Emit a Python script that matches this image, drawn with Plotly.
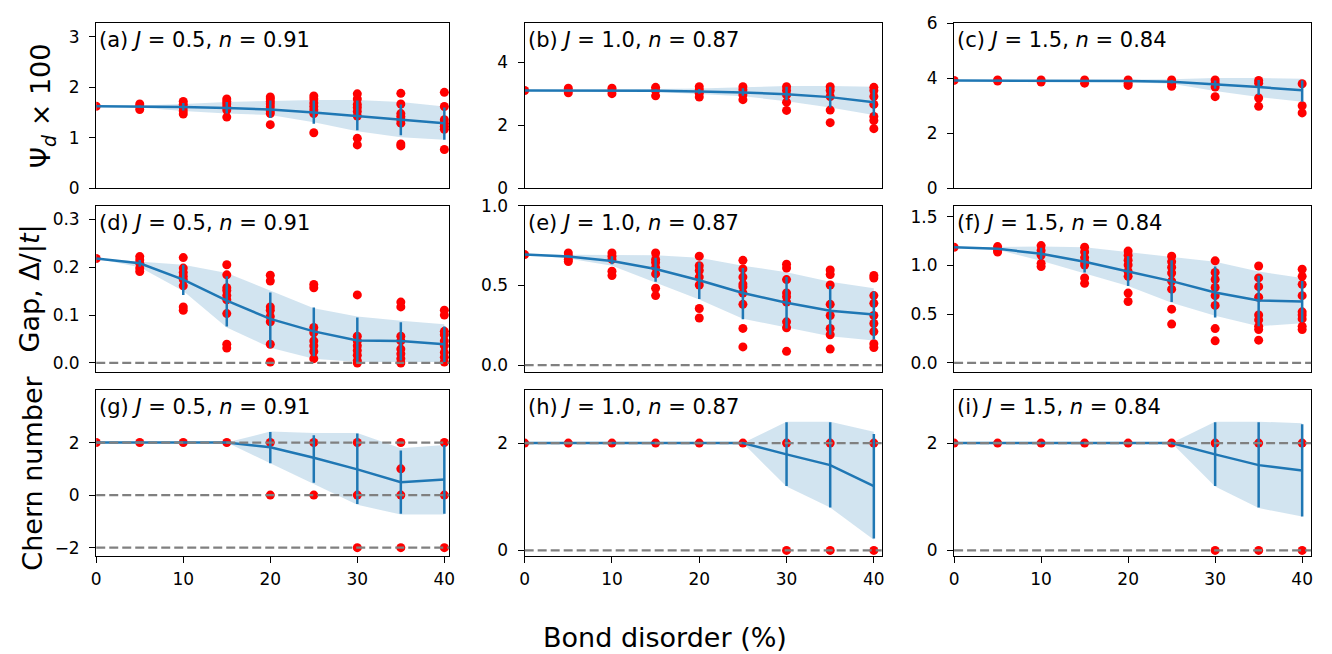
import plotly.graph_objects as go

# ---------------- data ----------------
disorder = [0, 5, 10, 15, 20, 25, 30, 35, 40]
x_ticks = [0, 10, 20, 30, 40]

panel_labels = ["(a)", "(b)", "(c)", "(d)", "(e)", "(f)", "(g)", "(h)", "(i)"]
J_values = ["0.5", "1.0", "1.5"]
n_values = ["0.91", "0.87", "0.84"]

# Row 1: order parameter Psi_d x 100
mean_a = [1.625, 1.62, 1.61, 1.59, 1.56, 1.50, 1.43, 1.36, 1.29]
ebhi_a = [1.625, 1.64, 1.69, 1.71, 1.74, 1.74, 1.74, 1.66, 1.60]
eblo_a = [1.625, 1.60, 1.54, 1.48, 1.39, 1.28, 1.15, 1.05, 0.96]
bdhi_a = [1.625, 1.64, 1.67, 1.71, 1.73, 1.75, 1.75, 1.71, 1.62]
bdlo_a = [1.625, 1.60, 1.53, 1.48, 1.45, 1.31, 1.13, 1.01, 0.96]
pts_a = [[1.625], [1.67, 1.625, 1.56], [1.72, 1.66, 1.60, 1.53, 1.47],
         [1.77, 1.72, 1.67, 1.61, 1.55, 1.41],
         [1.81, 1.77, 1.72, 1.67, 1.61, 1.53, 1.48, 1.26],
         [1.83, 1.77, 1.69, 1.62, 1.55, 1.48, 1.10],
         [1.87, 1.77, 1.66, 1.60, 1.52, 1.43, 0.99, 0.86],
         [1.88, 1.67, 1.48, 1.42, 1.36, 1.29, 0.88, 0.84],
         [1.90, 1.62, 1.36, 1.29, 1.23, 1.17, 0.77]]

mean_b = [3.10, 3.10, 3.10, 3.09, 3.07, 3.04, 2.98, 2.89, 2.73]
ebhi_b = [3.10, 3.11, 3.12, 3.13, 3.15, 3.17, 3.22, 3.22, 3.14]
eblo_b = [3.10, 3.09, 3.08, 3.06, 3.00, 2.93, 2.79, 2.56, 2.30]
bdhi_b = [3.10, 3.11, 3.12, 3.13, 3.16, 3.20, 3.24, 3.24, 3.22]
bdlo_b = [3.10, 3.09, 3.08, 3.05, 2.99, 2.92, 2.76, 2.56, 2.32]
pts_b = [[3.10], [3.17, 3.03], [3.17, 3.10, 3.00], [3.20, 3.10, 2.93],
         [3.22, 3.12, 3.01, 2.89], [3.22, 3.12, 2.96, 2.81],
         [3.22, 3.10, 2.96, 2.73, 2.47], [3.22, 3.10, 2.91, 2.48, 2.08],
         [3.20, 3.10, 2.91, 2.66, 2.28, 2.15, 1.89]]

mean_c = [3.92, 3.92, 3.92, 3.91, 3.90, 3.87, 3.78, 3.68, 3.56]
ebhi_c = [3.92, 3.93, 3.94, 3.94, 3.94, 3.93, 3.92, 3.94, 3.92]
eblo_c = [3.92, 3.91, 3.90, 3.88, 3.86, 3.81, 3.62, 3.39, 3.15]
bdhi_c = [3.92, 3.93, 3.94, 3.95, 3.96, 3.96, 4.01, 4.01, 3.98]
bdlo_c = [3.92, 3.91, 3.90, 3.88, 3.85, 3.80, 3.54, 3.32, 3.15]
pts_c = [[3.92], [3.94, 3.90], [3.94, 3.86], [3.94, 3.82], [3.94, 3.82, 3.74],
         [3.94, 3.80, 3.71], [3.94, 3.82, 3.68, 3.33], [3.92, 3.82, 3.28, 2.98],
         [3.80, 3.00, 2.74]]

# Row 2: gap Delta/|t|
mean_d = [0.218, 0.208, 0.174, 0.130, 0.092, 0.066, 0.047, 0.046, 0.039]
ebhi_d = [0.218, 0.215, 0.205, 0.181, 0.147, 0.116, 0.095, 0.085, 0.076]
eblo_d = [0.218, 0.201, 0.142, 0.076, 0.032, 0.014, 0.000, 0.005, 0.002]
bdhi_d = [0.218, 0.212, 0.205, 0.188, 0.151, 0.114, 0.097, 0.088, 0.081]
bdlo_d = [0.218, 0.200, 0.150, 0.074, 0.032, 0.009, 0.002, 0.002, 0.002]
pts_d = [[0.218], [0.222, 0.215, 0.208, 0.198, 0.191],
         [0.220, 0.198, 0.189, 0.181, 0.174, 0.161, 0.117, 0.110],
         [0.205, 0.184, 0.157, 0.151, 0.141, 0.132, 0.103, 0.039, 0.031],
         [0.183, 0.171, 0.117, 0.110, 0.097, 0.086, 0.039, 0.002],
         [0.164, 0.157, 0.074, 0.063, 0.046, 0.036, 0.024, 0.009],
         [0.142, 0.056, 0.046, 0.036, 0.026, 0.016, 0.005, 0.000],
         [0.127, 0.117, 0.056, 0.046, 0.029, 0.019, 0.009, 0.000],
         [0.110, 0.100, 0.066, 0.059, 0.046, 0.036, 0.022, 0.012, 0.002]]

mean_e = [0.694, 0.682, 0.654, 0.604, 0.533, 0.453, 0.392, 0.342, 0.318]
ebhi_e = [0.694, 0.688, 0.684, 0.674, 0.644, 0.610, 0.553, 0.497, 0.463]
eblo_e = [0.694, 0.676, 0.634, 0.523, 0.416, 0.288, 0.231, 0.191, 0.161]
bdhi_e = [0.694, 0.694, 0.694, 0.690, 0.674, 0.624, 0.584, 0.523, 0.483]
bdlo_e = [0.694, 0.670, 0.624, 0.517, 0.412, 0.292, 0.235, 0.181, 0.155]
pts_e = [[0.694], [0.704, 0.684, 0.664, 0.650],
         [0.704, 0.684, 0.664, 0.590, 0.563],
         [0.704, 0.664, 0.644, 0.614, 0.573, 0.483, 0.437],
         [0.684, 0.624, 0.594, 0.553, 0.503, 0.356, 0.296],
         [0.658, 0.604, 0.553, 0.509, 0.493, 0.453, 0.382, 0.231, 0.115],
         [0.634, 0.610, 0.537, 0.453, 0.429, 0.396, 0.272, 0.235, 0.087],
         [0.598, 0.569, 0.503, 0.382, 0.312, 0.231, 0.191, 0.101],
         [0.563, 0.547, 0.437, 0.388, 0.312, 0.262, 0.211, 0.135, 0.111]]

mean_f = [1.185, 1.169, 1.119, 1.036, 0.937, 0.838, 0.722, 0.639, 0.629]
ebhi_f = [1.185, 1.175, 1.180, 1.146, 1.093, 1.053, 0.987, 0.894, 0.838]
eblo_f = [1.185, 1.163, 1.060, 0.927, 0.788, 0.623, 0.464, 0.374, 0.417]
bdhi_f = [1.185, 1.192, 1.192, 1.185, 1.136, 1.086, 1.036, 0.937, 0.871]
bdlo_f = [1.185, 1.159, 1.046, 0.914, 0.788, 0.616, 0.483, 0.374, 0.407]
pts_f = [[1.185], [1.192, 1.152, 1.136],
         [1.202, 1.152, 1.103, 1.020, 0.987],
         [1.185, 1.136, 1.079, 1.036, 1.003, 0.871, 0.815],
         [1.146, 1.103, 1.053, 1.003, 0.937, 0.887, 0.715, 0.629],
         [1.093, 1.036, 0.980, 0.921, 0.838, 0.755, 0.550, 0.397],
         [1.046, 0.927, 0.854, 0.772, 0.689, 0.589, 0.351, 0.225],
         [0.993, 0.871, 0.781, 0.672, 0.490, 0.440, 0.374, 0.341, 0.232],
         [0.960, 0.887, 0.805, 0.689, 0.523, 0.490, 0.450, 0.374, 0.341]]

# Row 3: Chern number
mean_g = [2, 2, 2, 2, 1.82, 1.42, 0.98, 0.49, 0.59]
ebhi_g = [2, 2, 2, 2, 2.40, 2.28, 2.34, 1.70, 1.91]
eblo_g = [2, 2, 2, 2, 1.21, 0.47, -0.34, -0.71, -0.71]
bdhi_g = [2, 2, 2, 2, 2.42, 2.36, 2.36, 1.78, 1.91]
bdlo_g = [2, 2, 2, 2, 1.21, 0.43, -0.37, -0.74, -0.74]
pts_g = [[2], [2], [2], [2], [2, 0], [2, 0], [2, 0, -2], [2, 1, 0, -2], [2, 0, -2]]

mean_h = [2, 2, 2, 2, 2, 2, 1.79, 1.59, 1.20]
ebhi_h = [2, 2, 2, 2, 2, 2, 2.39, 2.39, 2.17]
eblo_h = [2, 2, 2, 2, 2, 2, 1.20, 0.80, 0.22]
bdhi_h = [2, 2, 2, 2, 2, 2, 2.40, 2.40, 2.21]
bdlo_h = [2, 2, 2, 2, 2, 2, 1.19, 0.80, 0.20]
pts_h = [[2], [2], [2], [2], [2], [2], [2, 0], [2, 0], [2, 0]]

mean_i = [2, 2, 2, 2, 2, 2, 1.79, 1.59, 1.49]
ebhi_i = [2, 2, 2, 2, 2, 2, 2.39, 2.39, 2.35]
eblo_i = [2, 2, 2, 2, 2, 2, 1.20, 0.80, 0.63]
bdhi_i = [2, 2, 2, 2, 2, 2, 2.40, 2.40, 2.37]
bdlo_i = [2, 2, 2, 2, 2, 2, 1.19, 0.79, 0.63]
pts_i = [[2], [2], [2], [2], [2], [2], [2, 0], [2, 0], [2, 0]]

panels = [
    (mean_a, ebhi_a, eblo_a, bdhi_a, bdlo_a, pts_a),
    (mean_b, ebhi_b, eblo_b, bdhi_b, bdlo_b, pts_b),
    (mean_c, ebhi_c, eblo_c, bdhi_c, bdlo_c, pts_c),
    (mean_d, ebhi_d, eblo_d, bdhi_d, bdlo_d, pts_d),
    (mean_e, ebhi_e, eblo_e, bdhi_e, bdlo_e, pts_e),
    (mean_f, ebhi_f, eblo_f, bdhi_f, bdlo_f, pts_f),
    (mean_g, ebhi_g, eblo_g, bdhi_g, bdlo_g, pts_g),
    (mean_h, ebhi_h, eblo_h, bdhi_h, bdlo_h, pts_h),
    (mean_i, ebhi_i, eblo_i, bdhi_i, bdlo_i, pts_i),
]

y_tickvals = [[0, 1, 2, 3], [0, 2, 4], [0, 2, 4, 6],
              [0, 0.1, 0.2, 0.3], [0, 0.5, 1.0], [0, 0.5, 1.0, 1.5],
              [-2, 0, 2], [0, 2], [0, 2]]
y_tickfmt = ["d", "d", "d", ".1f", ".1f", ".1f", "d", "d", "d"]
y_ranges = [[0, 3.28], [0, 5.25], [0, 6.02],
            [-0.018, 0.328], [-0.04, 1.0], [-0.09, 1.61],
            [-2.31, 4.0], [-0.1, 2.99], [-0.1, 2.99]]
x_ranges = [[0, 40.57], [0, 40.9], [0, 41.03]]
ref_lines = [[], [], [], [0], [0], [0], [-2, 0, 2], [0, 2], [0, 2]]
row_titles = ["Ψ<sub><i>d</i></sub> × 100", "Gap, Δ/|<i>t</i>|", "Chern number"]
row_title_xpx = [38, 25, 28]

# ---------------- layout geometry ----------------
W, H = 1332, 654
col_px = [(92, 448), (524, 884), (957, 1317)]
row_px = [(13, 184), (202, 373), (392, 563)]

BLUE = "#1f77b4"
BAND = "rgba(31,119,180,0.2)"
FONT = "DejaVu Sans"

fig = go.Figure()
layout = dict(
    width=W, height=H, margin=dict(l=0, r=0, t=0, b=0),
    paper_bgcolor="white", plot_bgcolor="white", showlegend=False,
    font=dict(family=FONT, color="black", size=17),
)
annotations = []
shapes = []

for k, (mean, ebhi, eblo, bdhi, bdlo, pts) in enumerate(panels):
    r, c = divmod(k, 3)
    n = k + 1
    xa = "x" if n == 1 else f"x{n}"
    ya = "y" if n == 1 else f"y{n}"
    xkey = "xaxis" if n == 1 else f"xaxis{n}"
    ykey = "yaxis" if n == 1 else f"yaxis{n}"

    # band
    fig.add_trace(go.Scatter(x=disorder, y=bdhi, mode="lines", line=dict(width=0, color=BAND),
                             xaxis=xa, yaxis=ya, hoverinfo="skip"))
    fig.add_trace(go.Scatter(x=disorder, y=bdlo, mode="lines", line=dict(width=0, color=BAND),
                             fill="tonexty", fillcolor=BAND, xaxis=xa, yaxis=ya, hoverinfo="skip"))
    # samples
    sx, sy = [], []
    for xv, vals in zip(disorder, pts):
        for v in vals:
            sx.append(xv)
            sy.append(v)
    fig.add_trace(go.Scatter(x=sx, y=sy, mode="markers",
                             marker=dict(color="red", size=9, line=dict(width=0)),
                             xaxis=xa, yaxis=ya))
    # mean with error bars
    plus = [h - m for h, m in zip(ebhi, mean)]
    minus = [m - l for m, l in zip(mean, eblo)]
    fig.add_trace(go.Scatter(x=disorder, y=mean, mode="lines",
                             line=dict(color=BLUE, width=2.5),
                             error_y=dict(type="data", symmetric=False, array=plus, arrayminus=minus,
                                          color=BLUE, thickness=2.5, width=0),
                             xaxis=xa, yaxis=ya))

    x0, x1 = col_px[c]
    t0, t1 = row_px[r]
    bottom = (r == 2)
    layout[xkey] = dict(
        domain=[x0 / W, x1 / W], anchor=ya, range=x_ranges[c],
        showline=True, linecolor="black", linewidth=1.3, mirror=True,
        showgrid=False, zeroline=False,
        ticks="outside" if bottom else "", ticklen=6, tickwidth=1.3, tickcolor="black",
        tickvals=x_ticks, showticklabels=bottom,
        tickfont=dict(size=17, family=FONT, color="black"),
        ticklabelstandoff=2,
    )
    layout[ykey] = dict(
        domain=[1 - t1 / H, 1 - t0 / H], anchor=xa, range=y_ranges[k],
        showline=True, linecolor="black", linewidth=1.3, mirror=True,
        showgrid=False, zeroline=False,
        ticks="outside", ticklen=6, tickwidth=1.3, tickcolor="black",
        tickvals=y_tickvals[k], tickformat=y_tickfmt[k],
        tickfont=dict(size=17, family=FONT, color="black"),
        ticklabelstandoff=6,
    )

    for yv in ref_lines[k]:
        shapes.append(dict(type="line", xref=f"{xa} domain", x0=0, x1=1, yref=ya, y0=yv, y1=yv,
                           line=dict(color="#808080", width=2.3, dash="9px,4px"), layer="above"))

    annotations.append(dict(
        text=f"{panel_labels[k]} <i>J</i> = {J_values[c]}, <i>n</i> = {n_values[c]}",
        xref=f"{xa} domain", yref=f"{ya} domain", x=0.0, y=1.0, xshift=1, yshift=-3,
        xanchor="left", yanchor="top", showarrow=False,
        font=dict(size=21, family=FONT, color="black"),
    ))

# row (y-axis) titles
for r in range(3):
    t0, t1 = row_px[r]
    annotations.append(dict(
        text=row_titles[r], xref="paper", yref="paper",
        x=row_title_xpx[r] / W, y=1 - (t0 + t1) / 2 / H,
        xanchor="center", yanchor="middle", textangle=-90, showarrow=False,
        font=dict(size=27, family=FONT, color="black"),
    ))

annotations.append(dict(text="Bond disorder (%)", xref="paper", yref="paper",
                        x=665 / W, y=1 - 638 / H, yshift=-9, xanchor="center", yanchor="middle",
                        showarrow=False, font=dict(size=27, family=FONT, color="black")))

layout["annotations"] = annotations
layout["shapes"] = shapes
fig.update_layout(**layout)
fig.write_html("out.html")
